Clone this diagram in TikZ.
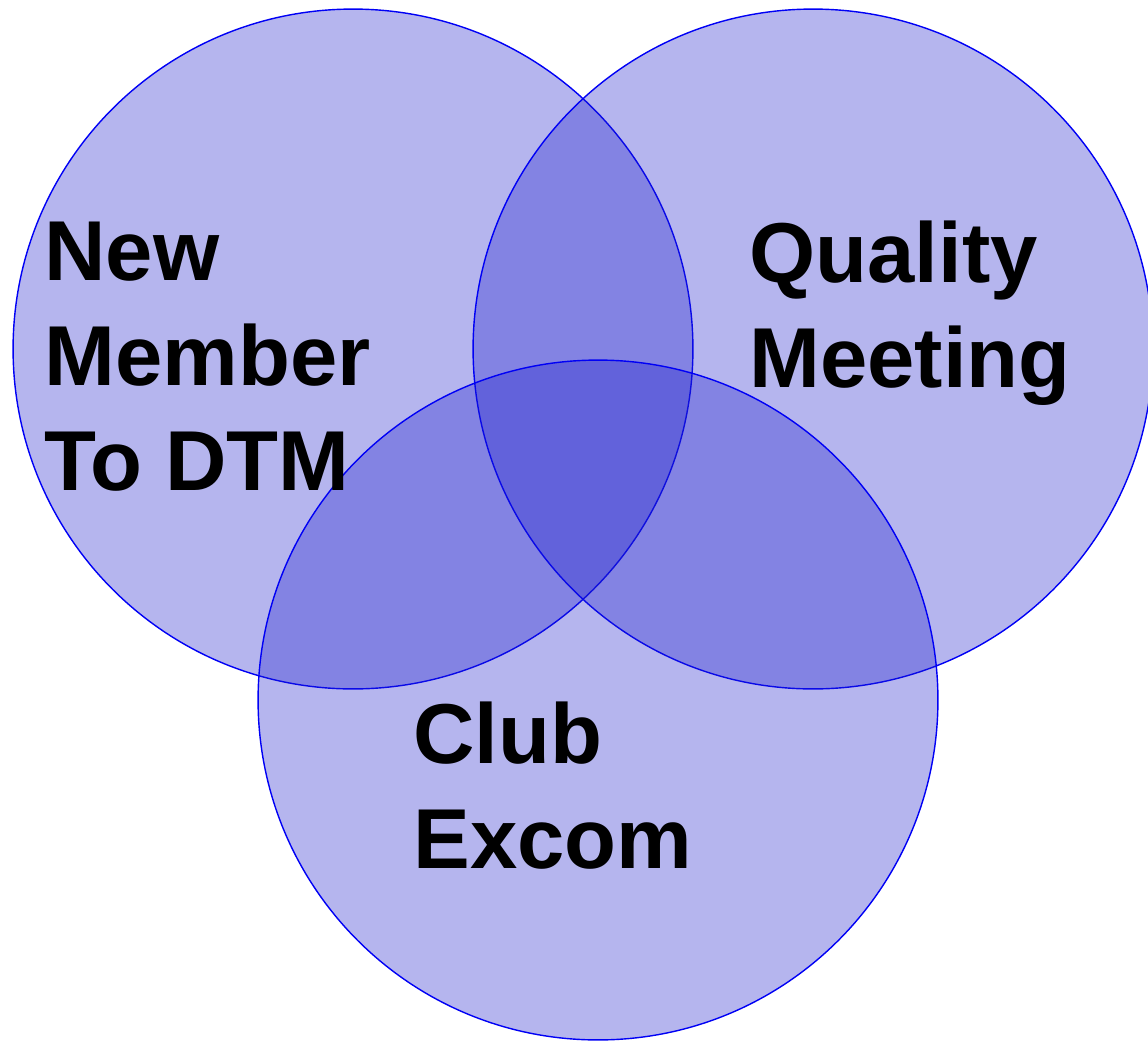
\documentclass[tikz,border=0pt]{standalone}
\usepackage{fontspec}
\newfontfamily\lblfont{Liberation Sans}
\definecolor{vennfill}{RGB}{30,30,204}
\definecolor{vennline}{RGB}{0,0,245}
\begin{document}
\begin{tikzpicture}[x=0.02cm,y=-0.02cm,
    venn/.style={circle,draw=vennline,line width=0.8pt,fill=vennfill,fill opacity=0.33,
        minimum size=13.6cm,inner sep=0pt},
    lbl/.style={anchor=base west,align=left,inner sep=0pt,
        font=\lblfont\bfseries\fontsize{48.4}{59.5}\selectfont}]
    \useasboundingbox (0,0) rectangle (1148,1045);
    \node[venn] (newm) at (353,349) {};
    \node[venn] (qual) at (813,349) {};
    \node[venn] (club) at (598,700) {};
    %===========================================
    % base anchor sits on the last line
    \node[lbl] (tnewm) at (44,490) {New\\Member\\To DTM};
    \node[lbl] (tqual) at (749,387) {Quality\\Meeting};
    \node[lbl] (tclub) at (413,868) {Club\\Excom};
\end{tikzpicture}
\end{document}
